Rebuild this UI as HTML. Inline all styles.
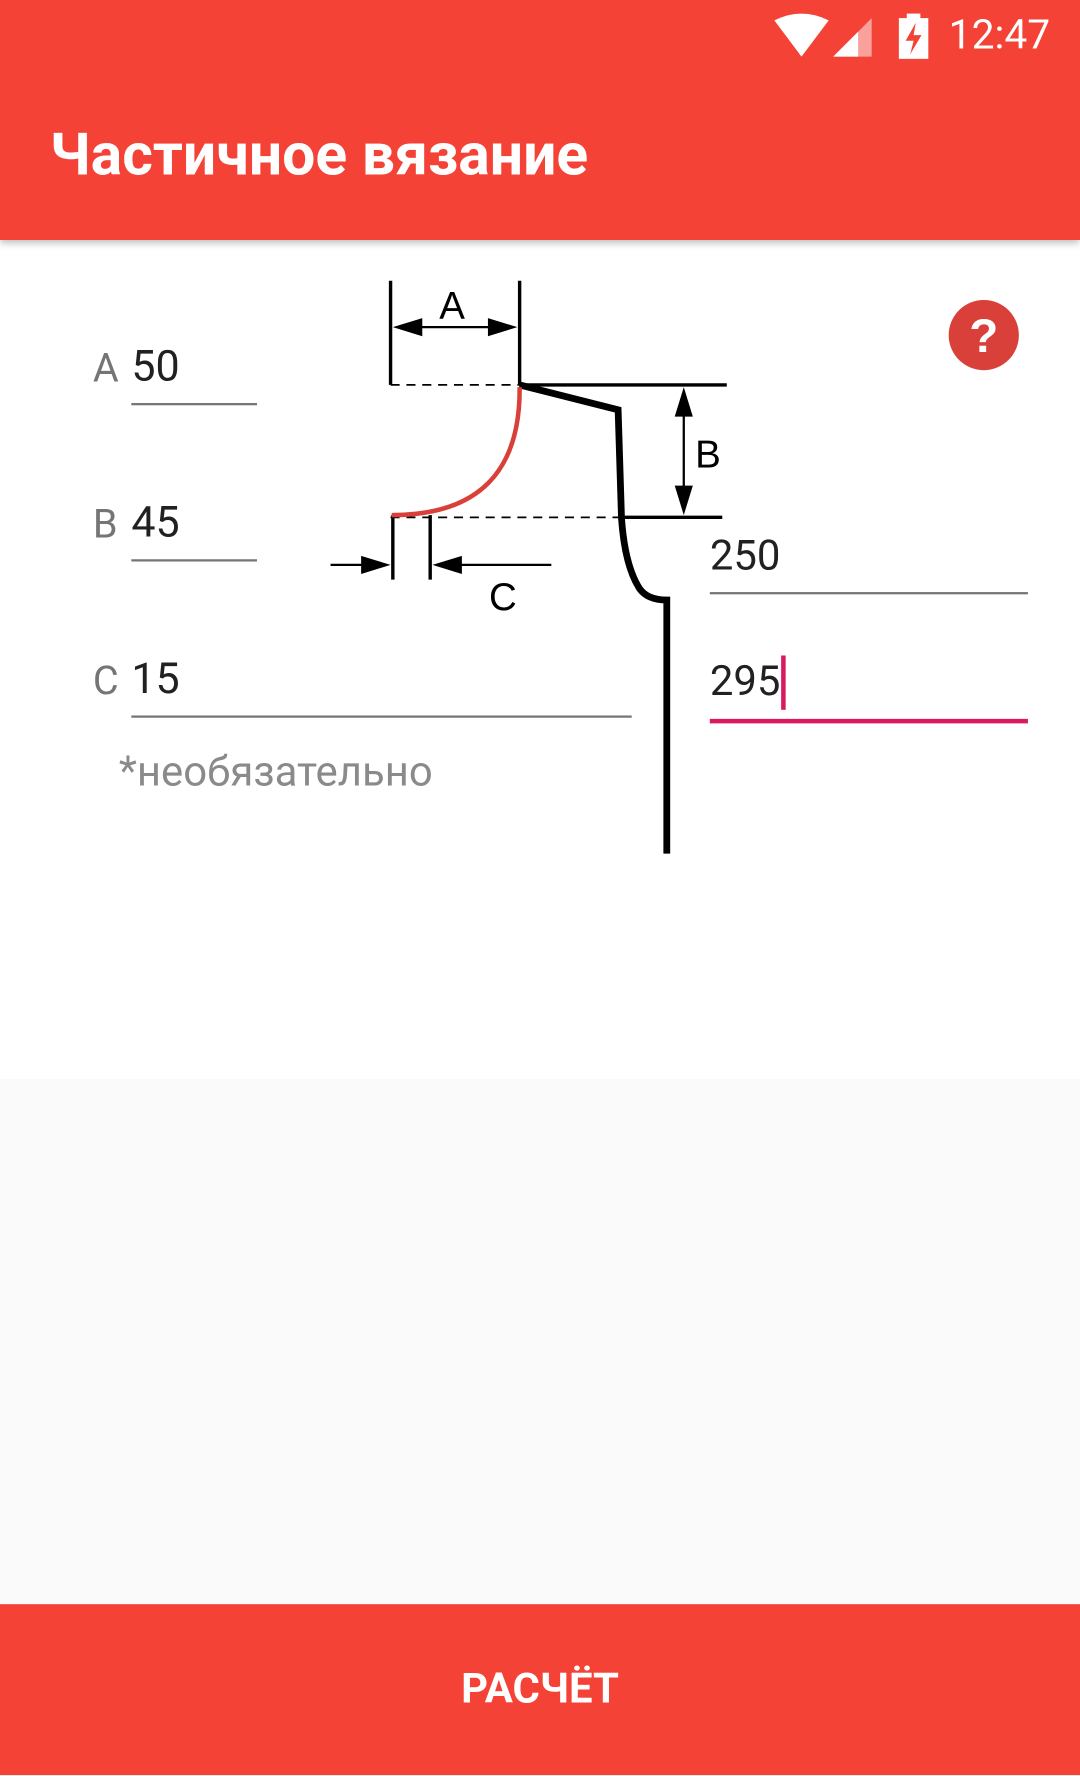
<!DOCTYPE html>
<html><head><meta charset="utf-8">
<style>
html,body{margin:0;padding:0;width:1080px;height:1776px;overflow:hidden;background:#fff}
#c{position:absolute;left:0;top:0;width:954px;height:1568px;transform:scale(1.13208);transform-origin:0 0;font-family:"Roboto","Liberation Sans","DejaVu Sans",sans-serif}
.abs{position:absolute;white-space:nowrap}
</style></head><body>
<div id="c">
<div class="abs" style="left:0;top:0;width:954px;height:212px;background:#F44336;box-shadow:0 3px 6px rgba(0,0,0,0.25);z-index:2"></div>
<div class="abs" style="left:44px;top:106px;font-size:52px;font-weight:bold;color:#fff;z-index:3">Частичное вязание</div>
<div class="abs" style="left:838px;top:10px;font-size:36px;color:#fff;z-index:3">12:47</div>
<svg class="abs" style="left:680px;top:10px;z-index:3" width="150" height="44" viewBox="0 0 150 44">
<path d="M4 8 Q28 -4 52 8 L28 40 Z" fill="#fff"/>
<path d="M90 6 L90 40 L56 40 Z" fill="#fff" opacity="0.5"/>
<path d="M78 18 L78 40 L56 40 Z" fill="#fff"/>
<rect x="114" y="6" width="26" height="36" fill="#fff"/><rect x="121" y="2" width="12" height="5" fill="#fff"/>
<path d="M129 10 L120 26 L127 26 L124 38 L134 21 L127 21 Z" fill="#F44336"/>
</svg>
<div class="abs" style="left:0;top:953px;width:954px;height:464px;background:#FAFAFA"></div>
<div class="abs" style="left:0;top:1417px;width:954px;height:151px;background:#F44336"></div>
<div class="abs" style="left:0;top:1471px;width:954px;text-align:center;font-size:37px;font-weight:bold;color:#fff">РАСЧЁТ</div>

<div class="abs" style="left:82px;top:305px;font-size:35px;color:#757575">A</div>
<div class="abs" style="left:116px;top:302px;font-size:38px;color:#212121">50</div>
<div class="abs" style="left:116px;top:356px;width:111px;height:2px;background:#757575"></div>
<div class="abs" style="left:82px;top:443px;font-size:35px;color:#757575">B</div>
<div class="abs" style="left:116px;top:440px;font-size:38px;color:#212121">45</div>
<div class="abs" style="left:116px;top:494px;width:111px;height:2px;background:#757575"></div>
<div class="abs" style="left:82px;top:581px;font-size:35px;color:#757575">C</div>
<div class="abs" style="left:116px;top:578px;font-size:38px;color:#212121">15</div>
<div class="abs" style="left:116px;top:632px;width:442px;height:2px;background:#757575"></div>
<div class="abs" style="left:105px;top:661px;font-size:37px;color:#8a8a8a">*необязательно</div>
<div class="abs" style="left:627px;top:470px;font-size:37px;color:#212121">250</div>
<div class="abs" style="left:627px;top:523px;width:281px;height:2px;background:#757575"></div>
<div class="abs" style="left:627px;top:581px;font-size:37px;color:#212121">295</div>
<div class="abs" style="left:690px;top:579px;width:4px;height:48px;background:#D81B60"></div>
<div class="abs" style="left:627px;top:635px;width:281px;height:4px;background:#D81B60"></div>

<svg class="abs" style="left:0;top:0" width="954" height="800" viewBox="0 0 954 800">
<circle cx="869" cy="296" r="31" fill="#D9403A"/>
<text x="869" y="311" font-size="42" font-weight="bold" fill="#fff" text-anchor="middle" font-family="Liberation Sans">?</text>
<g stroke="#000" fill="none">
<line x1="345" y1="248" x2="345" y2="340" stroke-width="3"/>
<line x1="459" y1="248" x2="459" y2="340" stroke-width="3"/>
<line x1="355" y1="289" x2="449" y2="289" stroke-width="2"/>
<line x1="345" y1="340" x2="459" y2="340" stroke-width="1.5" stroke-dasharray="8 6"/>
<line x1="459" y1="340" x2="642" y2="340" stroke-width="3"/>
<path d="M459 340 L546 362 L549 458 Q552 500 565 520 Q572 530 589 530 L589 754" stroke-width="6"/>
<line x1="345" y1="457" x2="549" y2="457" stroke-width="1.5" stroke-dasharray="8 6"/>
<line x1="549" y1="457" x2="638" y2="457" stroke-width="3"/>
<line x1="604" y1="352" x2="604" y2="447" stroke-width="2"/>
<line x1="347" y1="455" x2="347" y2="512" stroke-width="3"/>
<line x1="380" y1="455" x2="380" y2="512" stroke-width="3"/>
<line x1="292" y1="499" x2="337" y2="499" stroke-width="2"/>
<line x1="390" y1="499" x2="487" y2="499" stroke-width="2"/>
</g>
<path d="M459 342 Q460 455 346 455" stroke="#D9403A" stroke-width="4" fill="none"/>
<g fill="#000">
<path d="M347 289 L373 281 L373 297 Z"/><path d="M457 289 L431 281 L431 297 Z"/>
<path d="M604 342 L596 368 L612 368 Z"/><path d="M604 455 L596 429 L612 429 Z"/>
<path d="M345 499 L319 491 L319 507 Z"/><path d="M382 499 L408 491 L408 507 Z"/>
</g>
<g font-family="Liberation Sans" font-size="34" fill="#000">
<text x="388" y="282">A</text>
<text x="614" y="413">B</text>
<text x="432" y="539">C</text>
</g>
</svg>
</div>
</body></html>
